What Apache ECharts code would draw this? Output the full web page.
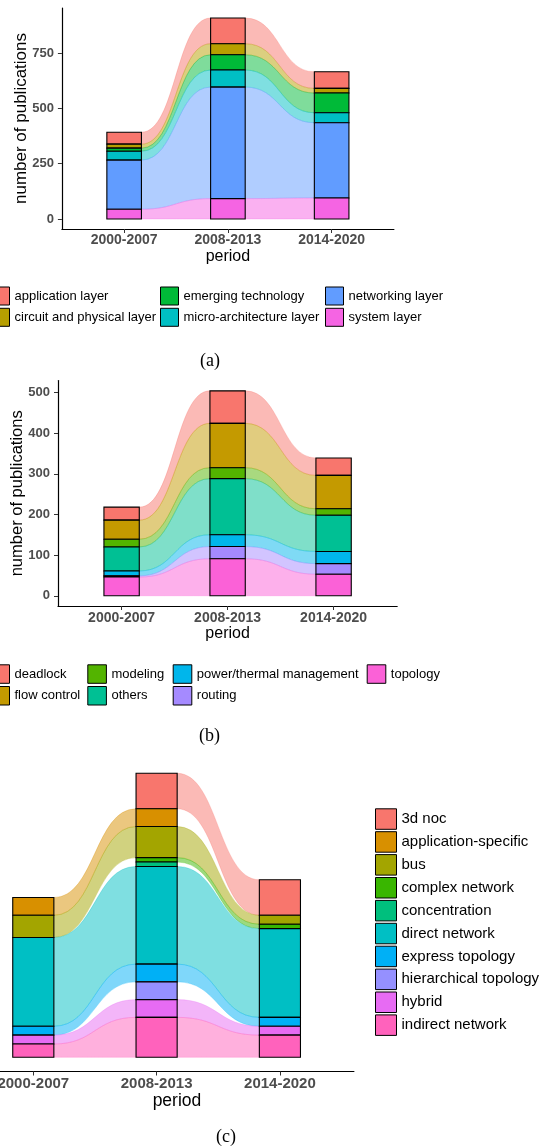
<!DOCTYPE html>
<html>
<head>
<meta charset="utf-8">
<script src="https://cdn.jsdelivr.net/npm/echarts@6/dist/echarts.min.js"></script>
<style>
html, body { margin: 0; padding: 0; background: #fff; }
#chart { width: 559px; height: 1146px; }
</style>
</head>
<body>
<div id="chart"></div>
<script>
var periods = ['2000-2007', '2008-2013', '2014-2020'];

// (a) research layers, listed from top of the stack to the bottom
var layerNames = ['application layer', 'circuit and physical layer', 'emerging technology',
                  'micro-architecture layer', 'networking layer', 'system layer'];
var layerColors = ['#F8766D', '#B79F00', '#00BA38', '#00BFC4', '#619CFF', '#F564E3'];
var layerValues = [
    [54, 116, 75],
    [18, 50, 21],
    [14, 69, 89],
    [40, 77, 45],
    [222, 504, 340],
    [44, 92, 95]
];
var layerTicks = [0, 250, 500, 750];

// (b) topics
var topicNames = ['deadlock', 'flow control', 'modeling', 'others',
                  'power/thermal management', 'routing', 'topology'];
var topicColors = ['#F8766D', '#C49A00', '#53B400', '#00C094', '#00B6EB', '#A58AFF', '#FB61D7'];
var topicValues = [
    [32, 80, 43],
    [47, 109, 82],
    [19, 27, 16],
    [59, 138, 89],
    [12, 29, 30],
    [3, 30, 26],
    [46, 91, 53]
];
var topicTicks = [0, 100, 200, 300, 400, 500];

// (c) topology types
var topoNames = ['3d noc', 'application-specific', 'bus', 'complex network', 'concentration',
                 'direct network', 'express topology', 'hierarchical topology', 'hybrid', 'indirect network'];
var topoColors = ['#F8766D', '#D89000', '#A3A500', '#39B600', '#00BF7D',
                  '#00BFC4', '#00B0F6', '#9590FF', '#E76BF3', '#FF62BC'];
var topoValues = [
    [0, 8, 8],
    [4, 4, 0],
    [5, 7, 2],
    [0, 1, 1],
    [0, 1, 0],
    [20, 22, 20],
    [2, 4, 2],
    [0, 4, 0],
    [2, 4, 2],
    [3, 9, 5]
];

var FONT = 'Liberation Sans';
var HALF = 1 / 6;   // half bar width in axis units

function rgba(hex, a) {
    var n = parseInt(hex.slice(1), 16);
    return 'rgba(' + (n >> 16) + ',' + ((n >> 8) & 255) + ',' + (n & 255) + ',' + a + ')';
}

// stacked lower/upper bounds, first category on top
function stackBounds(values) {
    var lo = values.map(function () { return []; });
    var hi = values.map(function () { return []; });
    for (var p = 0; p < periods.length; p++) {
        var cum = 0;
        for (var k = values.length - 1; k >= 0; k--) {
            lo[k][p] = cum;
            cum += values[k][p];
            hi[k][p] = cum;
        }
    }
    return { lo: lo, hi: hi };
}

function ribbonItem(params, api) {
    var x = api.value(0), v = api.value(3), nv = api.value(6);
    if (!(v > 0 && nv > 0)) return null;
    var color = api.visual('color');
    var a0 = api.coord([x + HALF, api.value(1)]);
    var a1 = api.coord([x + HALF, api.value(2)]);
    var b0 = api.coord([x + 1 - HALF, api.value(4)]);
    var b1 = api.coord([x + 1 - HALF, api.value(5)]);
    var mx = (a0[0] + b0[0]) / 2;
    var d = 'M' + a1[0] + ',' + a1[1] +
        'C' + mx + ',' + a1[1] + ',' + mx + ',' + b1[1] + ',' + b1[0] + ',' + b1[1] +
        'L' + b0[0] + ',' + b0[1] +
        'C' + mx + ',' + b0[1] + ',' + mx + ',' + a0[1] + ',' + a0[0] + ',' + a0[1] + 'Z';
    return {
        type: 'path',
        shape: { pathData: d },
        style: { fill: rgba(color, 0.5), stroke: rgba(color, 0.45), lineWidth: 0.6 }
    };
}

function barItem(params, api) {
    var x = api.value(0), v = api.value(3);
    if (!(v > 0)) return null;
    var p0 = api.coord([x - HALF, api.value(2)]);
    var p1 = api.coord([x + HALF, api.value(1)]);
    return {
        type: 'rect',
        shape: { x: p0[0], y: p0[1], width: p1[0] - p0[0], height: p1[1] - p0[1] },
        style: { fill: api.visual('color'), stroke: '#000', lineWidth: 1.1 }
    };
}

function panelSeries(names, colors, values, g) {
    var b = stackBounds(values);
    var out = [];
    names.forEach(function (name, k) {
        var data = periods.map(function (_, p) {
            var last = p === periods.length - 1;
            return [p + 1, b.lo[k][p], b.hi[k][p], values[k][p],
                last ? 0 : b.lo[k][p + 1], last ? 0 : b.hi[k][p + 1], last ? 0 : values[k][p + 1]];
        });
        out.push({
            type: 'custom', name: 'flow ' + name, xAxisIndex: g, yAxisIndex: g, z: 1,
            itemStyle: { color: colors[k] }, data: data, renderItem: ribbonItem, silent: true
        });
        out.push({
            type: 'custom', name: name, xAxisIndex: g, yAxisIndex: g, z: 2,
            itemStyle: { color: colors[k] }, data: data, renderItem: barItem
        });
    });
    return out;
}

function xAxis(g, min, labelSize, margin, titleSize, titleGap) {
    return {
        gridIndex: g, type: 'value', min: min, max: 3.6,
        axisLine: { show: true, onZero: false, lineStyle: { color: '#000', width: 1.2 } },
        axisTick: { show: true, length: 4, customValues: [1, 2, 3], lineStyle: { color: '#333' } },
        axisLabel: {
            customValues: [1, 2, 3], margin: margin,
            formatter: function (v) { return periods[Math.round(v) - 1]; },
            fontSize: labelSize, fontWeight: 'bold', color: '#4D4D4D', fontFamily: FONT
        },
        splitLine: { show: false },
        name: 'period', nameLocation: 'middle', nameGap: titleGap,
        nameTextStyle: { fontSize: titleSize, color: '#000', fontFamily: FONT }
    };
}

function yAxis(g, ticks, top, show, titleSize, titleGap) {
    var pad = top * 0.05;
    return {
        gridIndex: g, type: 'value', min: -pad, max: top + pad, show: show,
        axisLine: { show: true, onZero: false, lineStyle: { color: '#000', width: 1.2 } },
        axisTick: { show: true, length: 4, customValues: ticks, lineStyle: { color: '#333' } },
        axisLabel: {
            customValues: ticks, margin: 8,
            fontSize: 13, fontWeight: 'bold', color: '#4D4D4D', fontFamily: FONT
        },
        splitLine: { show: false },
        name: 'number of publications', nameLocation: 'middle', nameGap: titleGap,
        nameMoveOverlap: false,
        nameTextStyle: { fontSize: titleSize, color: '#000', fontFamily: FONT }
    };
}

function maxTotal(values) {
    var m = 0;
    for (var p = 0; p < periods.length; p++) {
        var s = 0;
        values.forEach(function (row) { s += row[p]; });
        m = Math.max(m, s);
    }
    return m;
}

function legend(left, top, names, size, gap, fontSize, w) {
    return {
        orient: 'vertical', left: left, top: top, padding: 0,
        itemWidth: w, itemHeight: size, itemGap: gap, icon: 'rect',
        selectedMode: false,
        itemStyle: { borderColor: '#000', borderWidth: 1 },
        textStyle: { fontSize: fontSize, color: '#000', fontFamily: FONT },
        data: names
    };
}

var chart = echarts.init(document.getElementById('chart'), null, { renderer: 'canvas' });

var option = {
    animation: false,
    backgroundColor: '#fff',
    grid: [
        { left: 61.9, top: 8, width: 332, height: 221, outerBoundsMode: 'none' },
        { left: 58, top: 380.6, width: 339.2, height: 225.4, outerBoundsMode: 'none' },
        { left: 0, top: 759.1, width: 353.9, height: 312.4, outerBoundsMode: 'none' }
    ],
    xAxis: [
        xAxis(0, 0.4, 14, 4.5, 16, 19),
        xAxis(1, 0.4, 14, 5, 16, 16.5),
        xAxis(2, 0.73, 15, 4.5, 17.5, 20)
    ],
    yAxis: [
        yAxis(0, layerTicks, maxTotal(layerValues), true, 17, 32.5),
        yAxis(1, topicTicks, maxTotal(topicValues), true, 16.5, 32),
        yAxis(2, [], maxTotal(topoValues), false, 16.5, 32)
    ],
    legend: [
        legend(-9, 286.5, [layerNames[0], layerNames[1]], 18, 2.3, 13, 18),
        legend(160, 286.5, [layerNames[2], layerNames[3]], 18, 2.3, 13, 18),
        legend(325, 286.5, [layerNames[4], layerNames[5]], 18, 2.3, 13, 18),
        legend(-9.6, 664.3, [topicNames[0], topicNames[1]], 18.5, 2.2, 13, 18.6),
        legend(87.3, 664.3, [topicNames[2], topicNames[3]], 18.5, 2.2, 13, 18.6),
        legend(172.7, 664.3, [topicNames[4], topicNames[5]], 18.5, 2.2, 13, 18.6),
        legend(366.7, 664.3, [topicNames[6]], 18.5, 2.2, 13, 18.6),
        legend(375, 808.3, topoNames, 20.5, 1.4, 15, 21)
    ],
    graphic: [
        { type: 'text', left: 200, top: 352, style: { text: '(a)', font: '18px "Liberation Serif"', fill: '#000' } },
        { type: 'text', left: 199, top: 727, style: { text: '(b)', font: '18px "Liberation Serif"', fill: '#000' } },
        { type: 'text', left: 216, top: 1128, style: { text: '(c)', font: '18px "Liberation Serif"', fill: '#000' } }
    ],
    series: [].concat(
        panelSeries(layerNames, layerColors, layerValues, 0),
        panelSeries(topicNames, topicColors, topicValues, 1),
        panelSeries(topoNames, topoColors, topoValues, 2)
    )
};

chart.setOption(option);
</script>
</body>
</html>
